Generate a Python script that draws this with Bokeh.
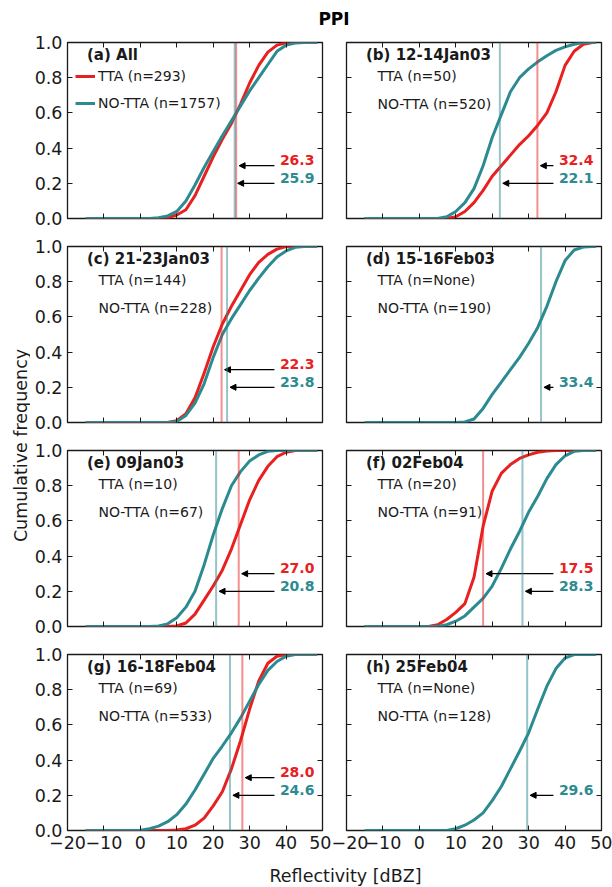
import math

from bokeh.embed import file_html
from bokeh.layouts import column, row
from bokeh.models import (Arrow, FixedTicker, Label, Legend, LegendItem, LinearAxis,
                          NormalHead, PrintfTickFormatter, Range1d, Span)
from bokeh.plotting import figure
from bokeh.resources import INLINE

# ---------------------------------------------------------------- data
# reflectivity bins (dBZ) at which the cumulative frequencies are given
DBZ = [-15, -12.5, -10, -7.5, -5, -2.5, 0, 2.5, 5, 7.5, 10, 12.5, 15, 17.5, 20,
       22.5, 25, 27.5, 30, 32.5, 35, 37.5, 40, 42.5, 45, 47.5, 48.5]

TTA_A = [0, 0, 0, 0, 0, 0, 0, 0, 0, 0.005, 0.02, 0.05, 0.13, 0.24, 0.35, 0.45, 0.54,
         0.65, 0.77, 0.87, 0.945, 0.985, 0.998, 1, 1, 1, 1]
NOTTA_A = [0, 0, 0, 0, 0, 0, 0, 0, 0.005, 0.015, 0.04, 0.10, 0.19, 0.29, 0.38, 0.47,
           0.555, 0.64, 0.725, 0.80, 0.875, 0.95, 0.985, 0.997, 1, 1, 1]

TTA_B = [0, 0, 0, 0, 0, 0, 0, 0, 0, 0, 0.01, 0.04, 0.09, 0.16, 0.24, 0.30, 0.36,
         0.42, 0.47, 0.53, 0.60, 0.72, 0.87, 0.95, 0.99, 1, 1]
NOTTA_B = [0, 0, 0, 0, 0, 0, 0, 0, 0, 0.01, 0.04, 0.09, 0.17, 0.30, 0.46, 0.59, 0.72,
           0.80, 0.85, 0.89, 0.925, 0.955, 0.975, 0.99, 1, 1, 1]

TTA_C = [0, 0, 0, 0, 0, 0, 0, 0, 0, 0, 0.01, 0.05, 0.14, 0.28, 0.43, 0.56, 0.66,
         0.75, 0.84, 0.91, 0.955, 0.985, 1, 1, 1, 1, 1]
NOTTA_C = [0, 0, 0, 0, 0, 0, 0, 0, 0, 0, 0.005, 0.04, 0.11, 0.22, 0.37, 0.50, 0.59,
           0.67, 0.75, 0.82, 0.885, 0.94, 0.975, 0.995, 1, 1, 1]

TTA_D = None
NOTTA_D = [0, 0, 0, 0, 0, 0, 0, 0, 0, 0, 0, 0.003, 0.02, 0.08, 0.16, 0.23, 0.30,
           0.37, 0.45, 0.54, 0.66, 0.80, 0.92, 0.98, 0.997, 1, 1]

TTA_E = [0, 0, 0, 0, 0, 0, 0, 0, 0, 0, 0.003, 0.02, 0.07, 0.15, 0.23, 0.32, 0.44,
         0.58, 0.72, 0.83, 0.91, 0.965, 0.99, 1, 1, 1, 1]
NOTTA_E = [0, 0, 0, 0, 0, 0, 0, 0, 0.003, 0.015, 0.05, 0.11, 0.20, 0.35, 0.52, 0.67,
           0.80, 0.88, 0.94, 0.975, 0.995, 1, 1, 1, 1, 1, 1]

TTA_F = [0, 0, 0, 0, 0, 0, 0, 0, 0.01, 0.04, 0.08, 0.13, 0.28, 0.57, 0.77, 0.87,
         0.92, 0.955, 0.975, 0.99, 0.997, 1, 1, 1, 1, 1, 1]
NOTTA_F = [0, 0, 0, 0, 0, 0, 0, 0, 0, 0.01, 0.03, 0.06, 0.11, 0.16, 0.23, 0.33, 0.44,
           0.54, 0.65, 0.74, 0.84, 0.92, 0.97, 0.995, 1, 1, 1]

TTA_G = [0, 0, 0, 0, 0, 0, 0, 0, 0, 0, 0.003, 0.01, 0.03, 0.07, 0.14, 0.22, 0.35,
         0.51, 0.69, 0.85, 0.95, 0.99, 1, 1, 1, 1, 1]
NOTTA_G = [0, 0, 0, 0, 0, 0, 0.002, 0.01, 0.025, 0.05, 0.09, 0.15, 0.23, 0.32, 0.41,
           0.48, 0.555, 0.64, 0.735, 0.83, 0.91, 0.96, 0.99, 1, 1, 1, 1]

TTA_H = None
NOTTA_H = [0, 0, 0, 0, 0, 0, 0, 0, 0, 0, 0.01, 0.03, 0.06, 0.10, 0.17, 0.25, 0.35,
           0.45, 0.555, 0.69, 0.82, 0.92, 0.98, 1, 1, 1, 1]

PANEL_TITLES = ["(a) All", "(b) 12-14Jan03", "(c) 21-23Jan03", "(d) 15-16Feb03",
                "(e) 09Jan03", "(f) 02Feb04", "(g) 16-18Feb04", "(h) 25Feb04"]
N_TTA = [293, 50, 144, None, 10, 20, 69, None]
N_NOTTA = [1757, 520, 228, 190, 67, 91, 533, 128]
MEDIAN_TTA = [26.3, 32.4, 22.3, None, 27.0, 17.5, 28.0, None]
MEDIAN_NOTTA = [25.9, 22.1, 23.8, 33.4, 20.8, 28.3, 24.6, 29.6]
CURVES_TTA = [TTA_A, TTA_B, TTA_C, TTA_D, TTA_E, TTA_F, TTA_G, TTA_H]
CURVES_NOTTA = [NOTTA_A, NOTTA_B, NOTTA_C, NOTTA_D, NOTTA_E, NOTTA_F, NOTTA_G, NOTTA_H]

X_TICKS = [-20, -10, 0, 10, 20, 30, 40, 50]
Y_TICKS = [0.0, 0.2, 0.4, 0.6, 0.8, 1.0]

# ---------------------------------------------------------------- style
FONT = "DejaVu Sans"
RED = "#e8201f"
TEAL = "#2c8b91"
INK = "#1a1a1a"

FRAME_W = 255
ROW_H = [202, 204, 204, 216]
ROW_TOP = [12, 14, 14, 14]
ROW_BOTTOM = [14, 14, 14, 26]


def style_axis(ax, show_labels):
    ax.axis_line_color = None
    ax.major_tick_in = 5
    ax.major_tick_out = 0
    ax.major_tick_line_color = INK
    ax.major_tick_line_width = 1
    ax.minor_tick_line_color = None
    if show_labels:
        ax.major_label_text_font = FONT
        ax.major_label_text_font_size = "17.5px"
        ax.major_label_text_color = INK
        ax.major_label_standoff = 5
    else:
        # tick marks only: no label is drawn and none takes up room
        ax.major_label_text_font_size = "0px"
        ax.major_label_text_color = None
        ax.major_label_standoff = 0


def text(p, x, y, s, size, color=INK, bold=False, baseline="middle"):
    p.add_layout(Label(x=x, y=y, text=s, text_font=FONT, text_font_size=size,
                       text_font_style="bold" if bold else "normal",
                       text_color=color, text_baseline=baseline, text_align="left"))


def make_panel(k, r, c):
    left = c == 0
    bl, br = (37, 9) if left else (15, 11)
    p = figure(width=bl + FRAME_W + br, height=ROW_H[r],
               x_range=Range1d(-20, 50), y_range=Range1d(0, 1),
               output_backend="svg", toolbar_location=None,
               min_border_left=bl, min_border_right=br,
               min_border_top=ROW_TOP[r], min_border_bottom=ROW_BOTTOM[r])
    p.grid.visible = False
    p.background_fill_color = "white"
    p.border_fill_color = "white"
    p.outline_line_color = INK
    p.outline_line_width = 1.3

    p.xaxis.ticker = FixedTicker(ticks=X_TICKS)
    p.xaxis.major_label_overrides = {t: str(t).replace("-", "\u2212") for t in X_TICKS}
    p.yaxis.ticker = FixedTicker(ticks=Y_TICKS)
    p.yaxis.formatter = PrintfTickFormatter(format="%.1f")
    style_axis(p.xaxis[0], r == 3)
    style_axis(p.yaxis[0], left)

    top = LinearAxis(ticker=FixedTicker(ticks=X_TICKS))
    style_axis(top, False)
    p.add_layout(top, "above")
    right = LinearAxis(ticker=FixedTicker(ticks=Y_TICKS))
    style_axis(right, False)
    p.add_layout(right, "right")

    # cumulative frequency curves
    tta, notta = CURVES_TTA[k], CURVES_NOTTA[k]
    r_tta = None
    if tta is not None:
        r_tta = p.line(DBZ, tta, line_color=RED, line_width=3, line_join="round")
    r_notta = p.line(DBZ, notta, line_color=TEAL, line_width=3, line_join="round")

    # medians: vertical marker, arrow and value
    for med, col, yv in ((MEDIAN_TTA[k], RED, 0.3), (MEDIAN_NOTTA[k], TEAL, 0.2)):
        if med is None:
            continue
        p.add_layout(Span(location=med, dimension="height", line_color=col,
                          line_alpha=0.5, line_width=2))
        p.add_layout(Arrow(x_start=36.8, y_start=yv, x_end=med + 0.8, y_end=yv,
                           line_color="black", line_width=1.2,
                           end=NormalHead(size=6, fill_color="black", line_color="black")))
        text(p, 38.3, yv + 0.03, f"{med:.1f}", "14px", color=col, bold=True)

    # panel title and sample sizes
    text(p, -14.65, 0.931, PANEL_TITLES[k], "15px", bold=True)
    lab_tta = f"TTA (n={N_TTA[k]})"
    lab_notta = f"NO-TTA (n={N_NOTTA[k]})"
    if k == 0:
        legend = Legend(items=[LegendItem(label=lab_tta, renderers=[r_tta]),
                               LegendItem(label=lab_notta, renderers=[r_notta])],
                        location=(8, 105), padding=0, margin=0, spacing=7,
                        label_height=20, glyph_height=20, glyph_width=20,
                        label_standoff=3, label_text_font=FONT,
                        label_text_font_size="14px", label_text_color=INK,
                        border_line_color=None, background_fill_alpha=0)
        p.add_layout(legend)
    else:
        text(p, -11.5, 0.807, lab_tta, "14px")
        text(p, -11.5, 0.653, lab_notta, "14px")
    return p


def blank(width, height):
    f = figure(width=width, height=height, x_range=Range1d(0, width),
               y_range=Range1d(0, height), output_backend="svg",
               toolbar_location=None, min_border=0,
               x_axis_location=None, y_axis_location=None)
    f.grid.visible = False
    f.outline_line_color = None
    f.background_fill_color = "white"
    f.border_fill_color = "white"
    return f


panels = [make_panel(k, k // 2, k % 2) for k in range(8)]
grid = column(*[row(panels[2 * i], panels[2 * i + 1]) for i in range(4)])

grid_h = sum(ROW_H)
ylab = blank(30, grid_h)
ylab.add_layout(Label(x=20, y=grid_h - 415, text="Cumulative frequency", angle=math.pi / 2,
                      text_font=FONT, text_font_size="17.5px", text_color=INK,
                      text_align="center", text_baseline="middle"))

title = blank(612, 30)
title.add_layout(Label(x=333.5, y=12, text="PPI", text_font=FONT, text_font_size="17px",
                       text_font_style="bold", text_color="black",
                       text_align="center", text_baseline="middle"))

xlab = blank(612, 31)
xlab.add_layout(Label(x=345, y=12, text="Reflectivity [dBZ]", text_font=FONT,
                      text_font_size="17.5px", text_color=INK,
                      text_align="center", text_baseline="middle"))

layout = column(title, row(ylab, grid), xlab)

open("out.html", "w").write(file_html(layout, INLINE))
